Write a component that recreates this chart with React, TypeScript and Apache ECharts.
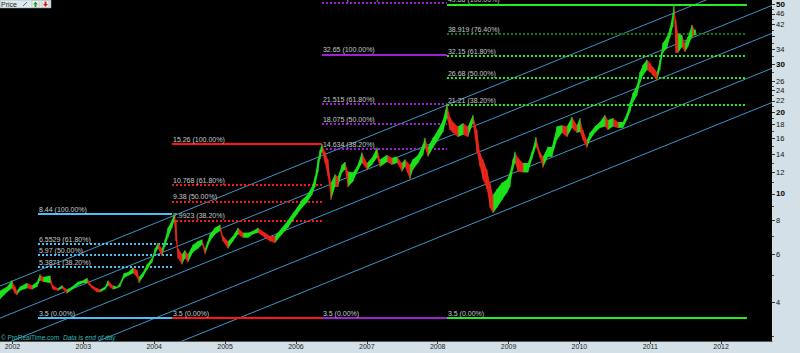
import React, { useEffect, useRef } from 'react';
import * as echarts from 'echarts';

// ---- axis labels ----
const yearTicks = [2002, 2003, 2004, 2005, 2006, 2007, 2008, 2009, 2010, 2011, 2012];
const priceLabels = [4, 6, 8, 10, 12, 14, 16, 18, 20, 22, 24, 26, 30, 34, 42, 46, 50];
const priceMajorTicks = [4, 6, 8, 10, 12, 14, 16, 18, 20, 22, 24, 26, 30, 34, 38, 42, 46, 50];
const priceMinorTicks = [3, 5, 7, 9, 11, 13, 15, 17, 19, 21, 23, 25, 28, 32, 36, 40, 44, 48];
const boldLabels = [10, 20, 30, 50];

// ---- price series (decimal year, low, high) ----
const dates = [
  2001.824, 2001.923, 2001.993, 2002.036, 2002.064, 2002.106, 2002.205, 2002.276, 2002.346, 2002.388,
  2002.431, 2002.530, 2002.572, 2002.642, 2002.699, 2002.769, 2002.840, 2002.925, 2002.995, 2003.052,
  2003.122, 2003.193, 2003.235, 2003.306, 2003.348, 2003.418, 2003.475, 2003.517, 2003.574, 2003.630,
  2003.701, 2003.757, 2003.785, 2003.842, 2003.898, 2003.969, 2004.011, 2004.053, 2004.110, 2004.152,
  2004.194, 2004.251, 2004.279, 2004.307, 2004.336, 2004.392, 2004.434, 2004.477, 2004.547, 2004.618,
  2004.674, 2004.717, 2004.787, 2004.858, 2004.928, 2004.971, 2005.041, 2005.112, 2005.182, 2005.253,
  2005.323, 2005.394, 2005.464, 2005.563, 2005.634, 2005.704, 2005.803, 2005.888, 2005.958, 2006.015,
  2006.085, 2006.156, 2006.226, 2006.269, 2006.311, 2006.339, 2006.367, 2006.410, 2006.452, 2006.494,
  2006.551, 2006.593, 2006.650, 2006.692, 2006.734, 2006.805, 2006.861, 2006.932, 2007.003, 2007.073,
  2007.144, 2007.186, 2007.285, 2007.355, 2007.426, 2007.496, 2007.539, 2007.609, 2007.651, 2007.722,
  2007.792, 2007.821, 2007.863, 2007.934, 2008.004, 2008.075, 2008.131, 2008.174, 2008.216, 2008.286,
  2008.357, 2008.427, 2008.498, 2008.554, 2008.597, 2008.639, 2008.695, 2008.738, 2008.780, 2008.837,
  2008.907, 2008.978, 2009.020, 2009.062, 2009.091, 2009.133, 2009.203, 2009.274, 2009.330, 2009.387,
  2009.443, 2009.486, 2009.556, 2009.613, 2009.683, 2009.754, 2009.824, 2009.895, 2009.965, 2010.008,
  2010.050, 2010.106, 2010.149, 2010.219, 2010.290, 2010.360, 2010.403, 2010.473, 2010.544, 2010.614,
  2010.671, 2010.713, 2010.755, 2010.812, 2010.854, 2010.896, 2010.953, 2010.995, 2011.037, 2011.094,
  2011.136, 2011.178, 2011.235, 2011.277, 2011.320, 2011.334, 2011.362, 2011.390, 2011.447, 2011.489,
  2011.531, 2011.588, 2011.630,
];
const lows = [
  4.1, 4.35, 4.5, 4.3, 4.25, 4.4, 4.5, 4.45, 4.55, 4.8,
  4.75, 4.7, 4.45, 4.4, 4.5, 4.3, 4.45, 4.6, 4.7, 4.7,
  4.5, 4.35, 4.35, 4.45, 4.6, 4.45, 4.5, 4.55, 4.9, 5.0,
  5.1, 4.95, 4.7, 4.95, 5.25, 5.6, 6.0, 6.3, 5.9, 6.4,
  6.9, 7.5, 7.9, 6.7, 5.8, 5.5, 5.8, 5.6, 6.1, 6.3,
  6.5, 6.0, 6.7, 7.1, 7.3, 6.7, 6.3, 6.7, 7.1, 6.9,
  6.9, 7.1, 7.2, 6.9, 6.7, 6.6, 7.1, 7.5, 8.0, 8.4,
  8.9, 9.3, 9.9, 10.6, 12.0, 13.4, 14.3, 13.0, 11.6, 9.5,
  10.6, 10.6, 12.0, 12.3, 10.6, 11.1, 12.0, 13.0, 12.3, 12.8,
  13.6, 12.6, 13.1, 12.8, 13.0, 12.1, 12.6, 11.3, 12.3, 13.0,
  13.9, 14.8, 13.7, 14.8, 15.8, 16.9, 19.0, 17.2, 16.8, 16.2,
  16.5, 16.2, 18.2, 14.2, 12.6, 11.3, 10.4, 8.9, 8.5, 8.9,
  9.5, 10.1, 10.6, 12.3, 13.0, 12.1, 12.0, 12.0, 13.4, 14.9,
  13.6, 12.5, 13.7, 13.7, 15.8, 16.8, 16.2, 17.5, 16.8, 16.9,
  15.8, 14.8, 15.8, 16.8, 17.5, 17.7, 17.2, 17.7, 17.5, 17.5,
  18.7, 20.0, 21.7, 23.0, 25.5, 27.3, 28.6, 28.1, 27.3, 26.2,
  28.6, 33.0, 34.4, 37.5, 41.2, 45.6, 33.0, 33.0, 34.7, 33.3,
  34.7, 37.8, 38.4,
];
const highs = [
  4.4, 4.55, 4.8, 4.55, 4.4, 4.55, 4.7, 4.6, 4.75, 5.05,
  4.95, 5.0, 4.6, 4.5, 4.6, 4.45, 4.55, 4.75, 4.8, 4.9,
  4.6, 4.5, 4.45, 4.55, 4.8, 4.6, 4.55, 4.7, 5.1, 5.15,
  5.35, 5.25, 4.95, 5.15, 5.5, 5.8, 6.3, 6.6, 6.3, 6.8,
  7.5, 8.0, 8.44, 8.0, 6.3, 6.0, 6.2, 6.0, 6.5, 6.7,
  6.8, 6.3, 7.1, 7.5, 7.7, 7.0, 6.7, 7.0, 7.5, 7.2,
  7.2, 7.3, 7.5, 7.2, 7.0, 7.0, 7.5, 8.0, 8.5, 8.9,
  9.5, 9.9, 10.6, 11.6, 13.4, 14.5, 15.26, 14.3, 13.4, 11.0,
  11.8, 11.6, 12.8, 13.1, 12.1, 12.0, 12.6, 14.2, 13.0, 13.6,
  14.8, 13.4, 13.9, 13.6, 13.7, 13.0, 13.4, 12.8, 13.4, 13.9,
  15.2, 16.1, 14.9, 16.1, 17.2, 18.7, 21.5, 19.2, 18.4, 17.7,
  18.2, 17.7, 19.5, 17.2, 14.2, 13.4, 12.3, 11.0, 9.9, 10.4,
  11.0, 11.3, 12.0, 13.4, 14.3, 13.6, 13.0, 13.0, 14.3, 16.2,
  14.3, 13.7, 14.9, 14.9, 17.7, 17.9, 17.7, 19.2, 17.9, 19.0,
  17.2, 15.8, 16.8, 17.7, 18.4, 19.5, 18.7, 19.0, 18.4, 18.4,
  19.8, 21.7, 23.5, 25.1, 28.1, 29.8, 31.2, 30.4, 29.3, 28.1,
  31.2, 35.9, 37.8, 40.7, 46.4, 49.86, 43.6, 39.1, 38.4, 35.9,
  37.8, 41.9, 40.2,
];
const lastPrice = 39.21;

// ---- regression channel (parallel lines) ----
const channelDates = [2001.824, 2012.718];
const channelStartPrices = [4.58, 3.49, 2.76, 2.05, 1.54];
const channelEndPrices = [64.9, 49.4, 39.0, 29.0, 21.7];

// ---- Fibonacci retracements ----
const fibCyanRange = [2002.36, 2004.251];
const fibCyanLevels = [8.44, 6.5529, 5.97, 5.3871, 3.5];
const fibCyanPcts = ['100.00', '61.80', '50.00', '38.20', '0.00'];

const fibRedRange = [2004.251, 2006.367];
const fibRedLevels = [15.26, 10.768, 9.38, 7.9923, 3.5];
const fibRedPcts = ['100.00', '61.80', '50.00', '38.20', '0.00'];

const fibPurpleRange = [2006.367, 2008.131];
const fibPurpleLevels = [50.665, 32.65, 21.515, 18.075, 14.634, 3.5];
const fibPurplePcts = ['161.80', '100.00', '61.80', '50.00', '38.20', '0.00'];

const fibGreenRange = [2008.131, 2012.364];
const fibGreenLevels = [49.86, 38.919, 32.15, 26.68, 21.21, 3.5];
const fibGreenPcts = ['100.00', '76.40', '61.80', '50.00', '38.20', '0.00'];

const X_MIN = 2001.824;
const X_MAX = 2012.718;
const Y_MIN = 2.875;
const Y_MAX = 51.73;

const UP = '#16e616';
const DOWN = '#ee1a1a';
const LABEL_COLOR = '#c4cacc';
const FONT = 'Liberation Sans, Arial, sans-serif';

function fibSeries(name: string, range: number[], levels: number[], pcts: string[], color: string, altColor?: string) {
  const data = levels.map((v, i) => {
    const solid = pcts[i] === '100.00' || pcts[i] === '0.00';
    const c = pcts[i] === '76.40' && altColor ? altColor : color;
    return [
      {
        coord: [range[0], v],
        lineStyle: { color: c, width: 2, type: solid ? 'solid' : [2, 2] },
        label: { formatter: `${v} (${pcts[i]}%)` },
      },
      { coord: [range[1], v] },
    ];
  });
  return {
    name,
    type: 'line',
    data: [],
    silent: true,
    markLine: {
      silent: true,
      symbol: ['none', 'none'],
      animation: false,
      label: {
        show: true,
        position: 'insideStartTop',
        distance: [1, 1],
        color: LABEL_COLOR,
        fontSize: 7,
        fontFamily: FONT,
      },
      emphasis: { disabled: true },
      data,
    },
  };
}

export default function App() {
  const ref = useRef<HTMLDivElement>(null);
  useEffect(() => {
    if (!ref.current) return;
    const chart = echarts.init(ref.current, undefined, { renderer: 'svg' });

    const priceData = dates.map((d, i) => [d, lows[i], highs[i]]);

    const channelSeries = channelStartPrices.map((p, i) => ({
      type: 'line',
      silent: true,
      symbol: 'none',
      clip: true,
      lineStyle: { color: '#3d95c8', width: 1 },
      data: [
        [channelDates[0], p],
        [channelDates[1], channelEndPrices[i]],
      ],
      z: 1,
    }));

    const option: any = {
      animation: false,
      backgroundColor: '#d3e0e7',
      grid: { left: 0, top: 0, right: 28, bottom: 12, show: true, backgroundColor: '#000', borderWidth: 0 },
      xAxis: {
        type: 'value',
        min: X_MIN,
        max: X_MAX,
        splitLine: { show: false },
        axisLine: { show: true, lineStyle: { color: '#555', width: 1 } },
        axisTick: { show: true, length: 3, customValues: yearTicks, lineStyle: { color: '#333' } },
        axisLabel: {
          customValues: yearTicks,
          formatter: (v: number) => String(Math.round(v)),
          fontSize: 7,
          color: '#222',
          margin: 2,
          fontFamily: FONT,
        },
      },
      yAxis: [
        {
          type: 'log',
          position: 'right',
          min: Y_MIN,
          max: Y_MAX,
          splitLine: { show: false },
          axisLine: { show: false },
          axisTick: { show: true, length: 3, customValues: priceMajorTicks, lineStyle: { color: '#333' } },
          axisLabel: {
            customValues: priceLabels,
            margin: 4,
            fontSize: 7.5,
            color: '#111',
            fontFamily: FONT,
            formatter: (v: number) => {
              const r = Math.round(v);
              return boldLabels.includes(r) ? `{b|${r}}` : String(r);
            },
            rich: { b: { fontWeight: 'bold', fontSize: 8, color: '#000', fontFamily: FONT } },
          },
        },
        {
          type: 'log',
          position: 'right',
          min: Y_MIN,
          max: Y_MAX,
          splitLine: { show: false },
          axisLine: { show: false },
          axisTick: { show: true, length: 2, customValues: priceMinorTicks, lineStyle: { color: '#444' } },
          axisLabel: { show: false },
        },
      ],
      series: [
        ...channelSeries,
        fibSeries('fibCyan', fibCyanRange, fibCyanLevels, fibCyanPcts, '#4cbff2'),
        fibSeries('fibRed', fibRedRange, fibRedLevels, fibRedPcts, '#ff1414'),
        fibSeries('fibPurple', fibPurpleRange, fibPurpleLevels, fibPurplePcts, '#a020d2'),
        fibSeries('fibGreen', fibGreenRange, fibGreenLevels, fibGreenPcts, '#22ee22', '#0b7f0b'),
        {
          type: 'custom',
          name: 'Price',
          clip: true,
          z: 5,
          encode: { x: 0, y: [1, 2] },
          data: priceData,
          renderItem: (params: any, api: any) => {
            const i = params.dataIndex;
            const t = api.value(0);
            const pHi = api.coord([t, api.value(2)]);
            const pLo = api.coord([t, api.value(1)]);
            if (i >= dates.length - 1) {
              return {
                type: 'rect',
                shape: { x: pHi[0] - 1, y: pHi[1], width: 2, height: Math.max(1, pLo[1] - pHi[1]) },
                style: { fill: UP },
              };
            }
            const nHi = api.coord([dates[i + 1], highs[i + 1]]);
            const nLo = api.coord([dates[i + 1], lows[i + 1]]);
            const up = lows[i + 1] + highs[i + 1] >= lows[i] + highs[i];
            const prevUp = i === 0 ? up : lows[i] + highs[i] >= lows[i - 1] + highs[i - 1];
            return {
              type: 'group',
              children: [
                {
                  type: 'polygon',
                  shape: { points: [pHi, nHi, nLo, pLo] },
                  style: { fill: up ? UP : DOWN },
                },
                {
                  type: 'line',
                  shape: { x1: pHi[0], y1: pHi[1], x2: pLo[0], y2: pLo[1] },
                  style: { stroke: prevUp ? '#2bd32b' : '#d8401a', lineWidth: 1 },
                },
              ],
            };
          },
        },
        {
          type: 'line',
          data: [],
          silent: true,
          markLine: {
            silent: true,
            symbol: ['none', 'none'],
            lineStyle: { opacity: 0, width: 0 },
            label: {
              show: true,
              position: 'end',
              distance: 2,
              formatter: String(lastPrice),
              backgroundColor: '#f2c300',
              borderColor: '#8a6a00',
              borderWidth: 0.5,
              color: '#111',
              fontSize: 7.5,
              fontFamily: FONT,
              padding: [1, 2, 0, 2],
            },
            data: [{ yAxis: lastPrice }],
          },
          z: 10,
        },
      ],
      graphic: [
        {
          type: 'rect',
          shape: { x: 0, y: 0, width: 51, height: 8 },
          style: { fill: '#dfe8ed', stroke: '#8aa4b0', lineWidth: 0.5 },
          z: 100,
        },
        {
          type: 'text',
          x: 1,
          y: 4,
          style: { text: 'Price', fontSize: 7, fill: '#222', fontFamily: FONT, verticalAlign: 'middle' },
          z: 101,
        },
        {
          type: 'line',
          shape: { x1: 23, y1: 6, x2: 27, y2: 2 },
          style: { stroke: '#666', lineWidth: 1 },
          z: 101,
        },
        {
          type: 'rect',
          shape: { x: 32, y: 0.5, width: 7, height: 7 },
          style: { fill: '#f3f3f3', stroke: '#9aa', lineWidth: 0.5 },
          z: 101,
        },
        {
          type: 'polygon',
          shape: { points: [[35.5, 1.5], [38, 4.5], [33, 4.5]] },
          style: { fill: '#1a9a1a' },
          z: 102,
        },
        {
          type: 'rect',
          shape: { x: 34.5, y: 4.5, width: 2, height: 2.5 },
          style: { fill: '#1a9a1a' },
          z: 102,
        },
        {
          type: 'rect',
          shape: { x: 42, y: 0.5, width: 7, height: 7 },
          style: { fill: '#f3f3f3', stroke: '#9aa', lineWidth: 0.5 },
          z: 101,
        },
        {
          type: 'polygon',
          shape: { points: [[45.5, 7], [48, 4], [43, 4]] },
          style: { fill: '#d42020' },
          z: 102,
        },
        {
          type: 'rect',
          shape: { x: 44.5, y: 1.5, width: 2, height: 2.5 },
          style: { fill: '#d42020' },
          z: 102,
        },
        {
          type: 'text',
          x: 1,
          y: 337,
          style: {
            text: '© ProRealTime.com  {i|Data is end of day}',
            fontSize: 6.5,
            fill: '#35b8b8',
            fontFamily: FONT,
            verticalAlign: 'middle',
            rich: { i: { fontStyle: 'italic', fontSize: 6.5, fill: '#35b8b8', fontFamily: FONT } },
          },
          z: 100,
        },
      ],
    };

    chart.setOption(option);
    return () => chart.dispose();
  }, []);

  return (
    <div
      ref={ref}
      style={{ position: 'fixed', left: 0, top: 0, width: 800, height: 353 }}
    />
  );
}
